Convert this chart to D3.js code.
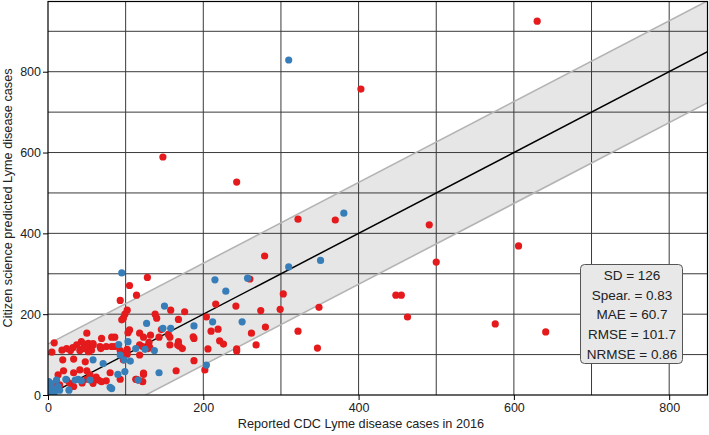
<!DOCTYPE html>
<html><head><meta charset="utf-8">
<script src="https://cdn.jsdelivr.net/npm/d3@7"></script>
<style>
html,body{margin:0;padding:0;background:#fff;}
svg{display:block;font-family:"Liberation Sans",Arial,sans-serif;}
</style></head>
<body><svg id="chart" width="709" height="435"></svg>
<script>
// ---- data ----
const redPoints = [
 [630,925],[403,757],[148,589],[243,527],[322,435],[370,433],[491,421],[606,369],[500,329],[448,247],[455,247],[463,193],[576,176],[641,156],
 [279,344],[260,287],[216,225],[242,220],[303,250],[299,212],[349,217],[274,209],[204,193],[280,168],[210,158],[219,163],[262,153],[322,158],
 [221,134],[226,126],[268,124],[206,114],[243,114],[243,109],[347,116],[202,62],[128,291],[168,187],
 [105,271],[114,247],[93,234],[102,210],[99,200],[97,190],[95,186],[138,200],[158,210],[176,206],[140,190],[105,161],[103,154],[50,153],
 [86,143],[118,153],[123,143],[132,148],[155,150],[157,143],[146,162],[188,140],[168,132],[173,115],[167,124],[143,143],[118,124],[129,115],
 [157,124],[102,113],[93,110],[188,85],[165,60],[123,51],[116,37],[114,39],[65,37],[69,33],[75,35],[58,29],[50,39],[33,55],[13,50],[41,62],
 [50,60],[54,50],[19,87],[33,89],[48,82],[102,101],[118,99],[9,21],[24,37],[28,29],[15,25],[33,21],[8,129],
 [18,111],[24,115],[29,110],[32,117],[43,132],[47,126],[52,128],[54,121],[45,115],[58,124],[50,113],[41,110],[56,111],[69,140],[75,120],
 [82,143],[82,120],[68,115],[52,107],[37,124],[122,120],[131,118],[169,121],[97,87],[99,103],[123,54],[93,39],[113,39],[122,33],[187,144],
 [58,127],[67,120],[86,120],[46,116],[5,106],[62,44],[44,30],[20,60],[80,55],[130,130]
];
const bluePoints = [
 [310,829],[381,450],[310,317],[351,333],[215,285],[257,289],[229,257],[212,181],[250,181],[204,74],[95,302],
 [150,220],[127,177],[148,165],[158,165],[188,171],[91,125],[103,132],[113,115],[125,113],[137,110],[93,99],[98,87],[106,84],
 [58,87],[71,78],[99,58],[90,51],[143,55],[80,19],[27,12],[23,39],[35,37],[39,39],[43,35],[54,37],[116,37],[82,16],
 [1,33],[3,25],[5,16],[9,12],[1,8],[7,4],[13,21],[11,37],[1,21],[15,12],[2,2],[4,28],[8,6]
];
const xTickValues = [0,200,400,600,800];
const yTickValues = [0,200,400,600,800];
const xGridValues = [100,200,300,400,500,600,700,800];
const yGridValues = [100,200,300,400,500,600,700,800,900];
const sd = 126;
const statsLines = ["SD = 126","Spear. = 0.83","MAE = 60.7","RMSE = 101.7","NRMSE = 0.86"];
const xLabel = "Reported CDC Lyme disease cases in 2016";
const yLabel = "Citizen science predicted Lyme disease cases";

// ---- layout ----
const W = 709, H = 435;
const m = {left:48, right:1, top:1, bottom:40};
const svg = d3.select("#chart");
const x = d3.scaleLinear().domain([0,850]).range([m.left, W-m.right]);
const y = d3.scaleLinear().domain([0,975]).range([H-m.bottom, m.top]);

svg.append("clipPath").attr("id","clip").append("rect")
  .attr("x",m.left).attr("y",m.top).attr("width",W-m.left-m.right).attr("height",H-m.top-m.bottom);

const plot = svg.append("g").attr("clip-path","url(#clip)");
const xs = [0,850];
// band
const band = d3.area().x(d=>x(d)).y0(d=>y(d-sd)).y1(d=>y(d+sd));
plot.append("path").datum(xs).attr("d",band).attr("fill","#e6e6e6");
// grid
plot.selectAll(".gx").data(xGridValues).join("line")
  .attr("x1",d=>x(d)).attr("x2",d=>x(d)).attr("y1",m.top).attr("y2",H-m.bottom)
  .attr("stroke","#3a3a3a").attr("stroke-width",1);
plot.selectAll(".gy").data(yGridValues).join("line")
  .attr("y1",d=>y(d)).attr("y2",d=>y(d)).attr("x1",m.left).attr("x2",W-m.right)
  .attr("stroke","#3a3a3a").attr("stroke-width",1);
// band edges
[sd,-sd].forEach(off=>{
  plot.append("path").datum(xs)
    .attr("d",d3.line().x(d=>x(d)).y(d=>y(d+off)))
    .attr("stroke","#b4b4b4").attr("stroke-width",1.6).attr("fill","none");
});
// identity
plot.append("path").datum(xs).attr("d",d3.line().x(d=>x(d)).y(d=>y(d)))
  .attr("stroke","#000").attr("stroke-width",1.5).attr("fill","none");
// points
plot.selectAll(".r").data(redPoints).join("circle")
  .attr("cx",d=>x(d[0])).attr("cy",d=>y(d[1])).attr("r",3.6).attr("fill","#e41a1c");
plot.selectAll(".b").data(bluePoints).join("circle")
  .attr("cx",d=>x(d[0])).attr("cy",d=>y(d[1])).attr("r",3.6).attr("fill","#377eb8");

// frame
svg.append("rect").attr("x",m.left).attr("y",m.top+0.5).attr("width",W-m.left-m.right-0.5).attr("height",H-m.top-m.bottom-0.5)
  .attr("fill","none").attr("stroke","#000").attr("stroke-width",1.2);

// axes
const xa = svg.append("g").attr("transform",`translate(0,${H-m.bottom})`)
  .call(d3.axisBottom(x).tickValues(xTickValues).tickSize(5).tickPadding(3).tickFormat(d3.format("d")));
const ya = svg.append("g").attr("transform",`translate(${m.left},0)`)
  .call(d3.axisLeft(y).tickValues(yTickValues).tickSize(5).tickPadding(2).tickFormat(d3.format("d")));
[xa,ya].forEach(a=>{
  a.select(".domain").remove();
  a.selectAll("text").attr("font-size","12.5px").attr("font-family","Liberation Sans, Arial, sans-serif").attr("fill","#222");
  a.selectAll("line").attr("stroke","#000");
});

svg.append("text").attr("x",(m.left+W-m.right)/2 - 17).attr("y",428).attr("text-anchor","middle")
  .attr("font-size","12.7px").attr("fill","#222").text(xLabel);
svg.append("text").attr("transform",`translate(12,${(m.top+H-m.bottom)/2}) rotate(-90)`).attr("text-anchor","middle")
  .attr("font-size","12.7px").attr("fill","#222").text(yLabel);

// stats box
const bx = 580, by = 264, bw = 102, bh = 99;
svg.append("rect").attr("x",bx+0.5).attr("y",by+0.5).attr("width",bw).attr("height",bh).attr("rx",4)
  .attr("fill","#e8e8e8").attr("stroke","#555").attr("stroke-width",1);
svg.selectAll(".st").data(statsLines).join("text")
  .attr("x",bx+bw/2+1).attr("y",(d,i)=>by+16+i*19.7).attr("text-anchor","middle")
  .attr("font-size","13.5px").attr("fill","#222").text(d=>d);
</script></body></html>
